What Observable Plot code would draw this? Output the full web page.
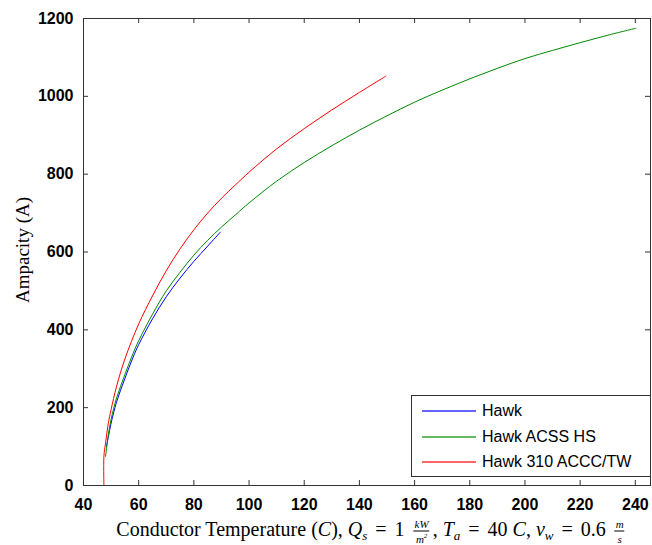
<!DOCTYPE html>
<html>
<head>
<meta charset="utf-8">
<script src="https://cdn.jsdelivr.net/npm/d3@7"></script>
<script src="https://cdn.jsdelivr.net/npm/@observablehq/plot@0.6"></script>
<style>
  body { margin: 0; background: #fff; }
  #wrap { position: relative; width: 652px; height: 545px; overflow: hidden; }
  .ylab { position: absolute; left: 23px; top: 250px; transform: translate(-50%, -50%) rotate(-90deg);
          font-family: "Liberation Serif", "DejaVu Serif", serif; font-size: 19px; white-space: nowrap; }
  .xlab { position: absolute; left: 372px; top: 531px; transform: translate(-50%, -50%);
          font-family: "Liberation Serif", "DejaVu Serif", serif; font-size: 20px; white-space: nowrap; line-height: 20px; }
  .xlab i { font-style: italic; }
  .xlab sub { font-size: 13px; vertical-align: -4px; line-height: 0; }
  .eq { margin: 0 8px; }
  .frac { display: inline-block; vertical-align: middle; text-align: center; font-size: 11px; line-height: 12px; font-style: italic; margin: 0 3px 0 9px; }
  .frac .num { display: block; border-bottom: 1px solid #000; padding: 0 1px 1px; }
  .frac .den { display: block; padding: 1px 1px 0; }
  .frac sup { font-size: 7px; line-height: 0; }
  .legend { position: absolute; left: 411px; top: 395px; width: 238px; height: 80px; border: 1px solid #333;
            background: #fff; font-family: "Liberation Sans", Arial, sans-serif; font-size: 16px; }
  .legend .row { position: absolute; left: 0; height: 20px; width: 100%; }
  .legend .ln { position: absolute; left: 10px; width: 54px; top: 9px; height: 2px; opacity: 0.6; }
  .legend .tx { position: absolute; left: 70px; top: 0; line-height: 20px; color: #000; }
</style>
</head>
<body>
<div id="wrap"></div>
<script>
const seriesNames = ["Hawk", "Hawk ACSS HS", "Hawk 310 ACCC/TW"];
const seriesColors = ["#0000ff", "#008800", "#ff0000"];

// Hawk (blue)
const hawkT = [48.3, 49, 50, 52, 55, 58, 60, 65, 70, 75, 80, 85, 89.6];
const hawkI = [100, 125, 160, 215, 275, 330, 362, 428, 485, 533, 576, 615, 651];

// Hawk ACSS HS (green)
const acssT = [48, 49, 50, 52, 55, 58, 60, 65, 70, 75, 80, 85, 90, 95, 100, 110, 120, 130, 140, 150, 160, 170, 180, 190, 200, 210, 220, 230, 240.2];
const acssI = [75, 130, 170, 225, 285, 340, 372, 440, 500, 548, 592, 630, 664, 695, 726, 782, 830, 873, 913, 950, 985, 1016, 1045, 1072, 1097, 1118, 1138, 1157, 1175];

// Hawk 310 ACCC/TW (red)
const acccT = [47.4, 47.4, 48, 49, 50, 52, 55, 60, 65, 70, 75, 80, 85, 90, 95, 100, 110, 120, 130, 140, 149.6];
const acccI = [0, 75, 110, 160, 195, 255, 325, 415, 487, 552, 608, 657, 700, 738, 772, 805, 865, 917, 965, 1010, 1052];

const xTicks = [40, 60, 80, 100, 120, 140, 160, 180, 200, 220, 240];
const yTicks = [0, 200, 400, 600, 800, 1000, 1200];

const seriesT = [hawkT, acssT, acccT];
const seriesI = [hawkI, acssI, acccI];
const rows = [];
seriesNames.forEach((name, k) => {
  seriesT[k].forEach((t, i) => rows.push({series: name, T: t, I: seriesI[k][i]}));
});

const W = 652, H = 545, mL = 83, mR = 2, mT = 18, mB = 60;
const innerH = H - mT - mB, innerW = W - mL - mR, tk = 5;
const axisColor = "#333";

const chart = Plot.plot({
  width: W, height: H,
  marginLeft: mL, marginRight: mR, marginTop: mT, marginBottom: mB,
  x: {domain: [40, 245.5]},
  y: {domain: [0, 1200]},
  color: {domain: seriesNames, range: seriesColors},
  style: {fontFamily: "'Liberation Sans', Arial, sans-serif", fontSize: "16px", fontWeight: "bold", color: "#000", background: "#fff"},
  marks: [
    Plot.line(rows, {x: "T", y: "I", z: "series", stroke: "series", strokeWidth: 1, curve: "catmull-rom"}),
    Plot.frame({stroke: axisColor}),
    Plot.tickX(xTicks, {x: d => d, insetTop: innerH - tk, stroke: axisColor}),
    Plot.tickX(xTicks, {x: d => d, insetBottom: innerH - tk, stroke: axisColor}),
    Plot.tickY(yTicks, {y: d => d, insetRight: innerW - tk, stroke: axisColor}),
    Plot.tickY(yTicks, {y: d => d, insetLeft: innerW - tk, stroke: axisColor}),
    Plot.axisX(xTicks, {tickSize: 0, tickPadding: 13, label: null, tickFormat: d => String(d)}),
    Plot.axisY(yTicks, {tickSize: 0, tickPadding: 10, label: null, tickFormat: d => String(d)})
  ]
});

const wrap = document.getElementById("wrap");
wrap.appendChild(chart);

const ylab = document.createElement("div");
ylab.className = "ylab";
ylab.textContent = "Ampacity (A)";
wrap.appendChild(ylab);

const xlab = document.createElement("div");
xlab.className = "xlab";
xlab.innerHTML = 'Conductor Temperature (<i>C</i>), <i>Q</i><sub><i>s</i></sub><span class="eq">=</span>1' +
  '<span class="frac"><span class="num">kW</span><span class="den">m<sup>2</sup></span></span>, ' +
  '<i>T</i><sub><i>a</i></sub><span class="eq">=</span>40 <i>C</i>, <i>v</i><sub><i>w</i></sub><span class="eq">=</span>0.6' +
  '<span class="frac"><span class="num">m</span><span class="den">s</span></span>';
wrap.appendChild(xlab);

const legend = document.createElement("div");
legend.className = "legend";
seriesNames.forEach((name, k) => {
  const row = document.createElement("div");
  row.className = "row";
  row.style.top = (5 + k * 25.5) + "px";
  const ln = document.createElement("span");
  ln.className = "ln";
  ln.style.background = seriesColors[k];
  const tx = document.createElement("span");
  tx.className = "tx";
  tx.textContent = name;
  row.appendChild(ln);
  row.appendChild(tx);
  legend.appendChild(row);
});
wrap.appendChild(legend);
</script>
</body>
</html>
